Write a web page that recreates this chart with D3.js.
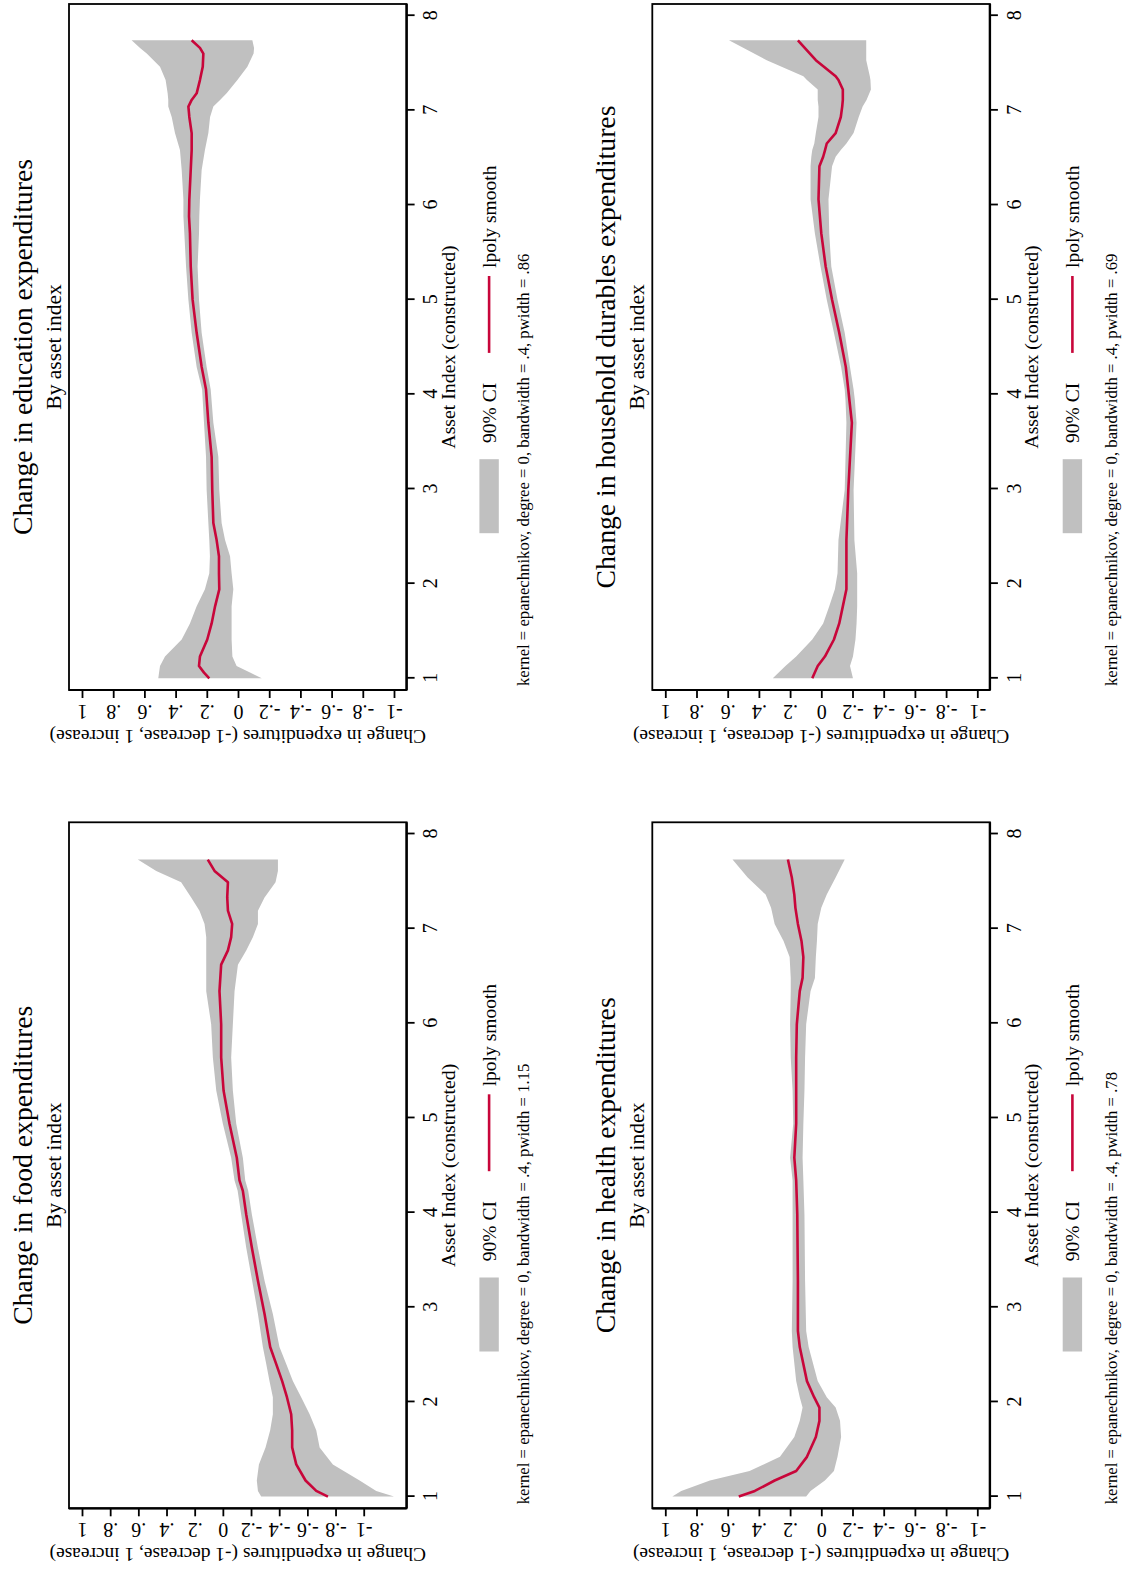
<!DOCTYPE html>
<html><head><meta charset="utf-8">
<script src="https://cdn.jsdelivr.net/npm/d3@7"></script>
<style>
html,body{margin:0;padding:0;background:#fff;}
svg{display:block;}
text{font-family:"Liberation Serif","Times New Roman",serif;fill:#000;}
</style></head><body>
<svg id="chart" width="1123" height="1573"></svg>
<script>
// ---------- tick labels ----------
const assetTicks = [1, 2, 3, 4, 5, 6, 7, 8];
const valueTicks = [-1, -0.8, -0.6, -0.4, -0.2, 0, 0.2, 0.4, 0.6, 0.8, 1];
const valueTickLabels = ["-1", "-.8", "-.6", "-.4", "-.2", "0", ".2", ".4", ".6", ".8", "1"];

// ---------- food ----------
const foodAsset  = [1.00, 1.06, 1.17, 1.34, 1.52, 1.70, 1.87, 2.05, 2.22, 2.40, 2.58, 2.93, 3.28, 3.63, 3.98, 4.23, 4.34, 4.58, 4.94, 5.29, 5.64, 5.99, 6.34, 6.62, 6.77, 6.91, 7.05, 7.19, 7.33, 7.49, 7.61, 7.73];
const foodSmooth = [-0.746, -0.663, -0.587, -0.521, -0.492, -0.492, -0.485, -0.455, -0.421, -0.379, -0.336, -0.296, -0.249, -0.206, -0.166, -0.142, -0.118, -0.099, -0.047, -0.005, 0.012, 0.012, 0.024, 0.012, -0.036, -0.059, -0.066, -0.036, -0.031, -0.036, 0.059, 0.107];
const foodLow    = [-1.215, -1.089, -0.971, -0.781, -0.687, -0.663, -0.616, -0.556, -0.497, -0.450, -0.402, -0.355, -0.296, -0.249, -0.206, -0.180, -0.159, -0.142, -0.095, -0.071, -0.059, -0.071, -0.083, -0.107, -0.166, -0.213, -0.249, -0.249, -0.296, -0.374, -0.391, -0.391];
const foodHigh   = [-0.272, -0.249, -0.241, -0.256, -0.303, -0.336, -0.355, -0.355, -0.331, -0.308, -0.284, -0.249, -0.208, -0.166, -0.130, -0.105, -0.083, -0.059, 0.000, 0.047, 0.071, 0.083, 0.118, 0.118, 0.118, 0.118, 0.130, 0.166, 0.225, 0.296, 0.473, 0.604];

// ---------- education ----------
const eduAsset  = [1.00, 1.06, 1.13, 1.23, 1.41, 1.58, 1.76, 1.94, 2.11, 2.29, 2.46, 2.64, 2.99, 3.34, 3.70, 4.05, 4.29, 4.65, 5.00, 5.35, 5.70, 5.88, 6.06, 6.37, 6.58, 6.76, 6.93, 7.04, 7.11, 7.18, 7.32, 7.46, 7.60, 7.66, 7.74];
const eduSmooth = [0.184, 0.218, 0.250, 0.244, 0.197, 0.169, 0.147, 0.120, 0.122, 0.122, 0.137, 0.158, 0.165, 0.169, 0.190, 0.205, 0.233, 0.265, 0.291, 0.303, 0.308, 0.314, 0.312, 0.303, 0.297, 0.297, 0.312, 0.318, 0.297, 0.265, 0.244, 0.226, 0.222, 0.244, 0.297];
const eduLow    = [-0.152, -0.077, 0.009, 0.036, 0.041, 0.041, 0.041, 0.030, 0.041, 0.051, 0.083, 0.105, 0.120, 0.126, 0.158, 0.175, 0.201, 0.233, 0.250, 0.259, 0.250, 0.248, 0.244, 0.233, 0.212, 0.190, 0.179, 0.158, 0.115, 0.073, 0.004, -0.060, -0.100, -0.103, -0.092];
const eduHigh   = [0.511, 0.506, 0.500, 0.468, 0.361, 0.308, 0.265, 0.212, 0.184, 0.180, 0.184, 0.190, 0.201, 0.205, 0.218, 0.230, 0.265, 0.297, 0.318, 0.333, 0.344, 0.350, 0.350, 0.361, 0.372, 0.404, 0.425, 0.447, 0.447, 0.451, 0.464, 0.500, 0.585, 0.628, 0.682];

// ---------- health ----------
const healthAsset  = [1.00, 1.06, 1.17, 1.27, 1.42, 1.63, 1.80, 1.94, 2.05, 2.22, 2.58, 2.75, 3.28, 3.98, 4.34, 4.58, 4.94, 5.29, 5.64, 5.99, 6.34, 6.48, 6.70, 6.87, 7.05, 7.22, 7.36, 7.54, 7.73];
const healthSmooth = [0.529, 0.426, 0.299, 0.161, 0.092, 0.035, 0.012, 0.012, 0.046, 0.092, 0.138, 0.150, 0.150, 0.154, 0.161, 0.173, 0.161, 0.161, 0.161, 0.157, 0.138, 0.120, 0.115, 0.127, 0.150, 0.166, 0.173, 0.189, 0.214];
const healthLow    = [0.097, 0.069, -0.023, -0.081, -0.104, -0.127, -0.120, -0.092, -0.035, 0.023, 0.081, 0.097, 0.104, 0.108, 0.115, 0.120, 0.115, 0.108, 0.104, 0.097, 0.069, 0.041, 0.035, 0.028, 0.023, 0.000, -0.035, -0.092, -0.150];
const healthHigh   = [0.955, 0.898, 0.714, 0.460, 0.265, 0.173, 0.138, 0.120, 0.138, 0.161, 0.184, 0.189, 0.184, 0.184, 0.184, 0.200, 0.180, 0.184, 0.196, 0.200, 0.196, 0.196, 0.203, 0.242, 0.299, 0.322, 0.357, 0.472, 0.569];

// ---------- household durables ----------
const durAsset  = [1.00, 1.13, 1.23, 1.41, 1.58, 1.76, 1.94, 2.11, 2.46, 2.99, 3.70, 3.94, 4.05, 4.29, 4.65, 5.00, 5.35, 5.70, 6.06, 6.41, 6.51, 6.58, 6.65, 6.76, 6.93, 7.04, 7.11, 7.22, 7.32, 7.36, 7.53, 7.74];
const durSmooth = [0.058, 0.023, -0.023, -0.081, -0.115, -0.138, -0.161, -0.161, -0.161, -0.173, -0.196, -0.180, -0.173, -0.157, -0.115, -0.069, -0.028, 0.000, 0.018, 0.012, -0.012, -0.024, -0.035, -0.092, -0.125, -0.134, -0.138, -0.138, -0.110, -0.092, 0.035, 0.150];
const durLow    = [-0.203, -0.184, -0.203, -0.219, -0.226, -0.230, -0.230, -0.230, -0.212, -0.207, -0.226, -0.215, -0.207, -0.184, -0.150, -0.104, -0.064, -0.051, -0.046, -0.069, -0.092, -0.125, -0.161, -0.207, -0.240, -0.265, -0.290, -0.318, -0.315, -0.311, -0.288, -0.288];
const durHigh   = [0.311, 0.230, 0.161, 0.058, -0.012, -0.051, -0.087, -0.104, -0.110, -0.150, -0.161, -0.155, -0.150, -0.127, -0.081, -0.035, 0.005, 0.041, 0.069, 0.069, 0.064, 0.058, 0.045, 0.035, 0.018, 0.018, 0.023, 0.023, 0.092, 0.115, 0.350, 0.592];

const panelTitles = ["Change in food expenditures", "Change in education expenditures",
                     "Change in health expenditures", "Change in household durables expenditures"];
const panelNotes = [
  "kernel = epanechnikov, degree = 0, bandwidth = .4, pwidth = 1.15",
  "kernel = epanechnikov, degree = 0, bandwidth = .4, pwidth = .86",
  "kernel = epanechnikov, degree = 0, bandwidth = .4, pwidth = .78",
  "kernel = epanechnikov, degree = 0, bandwidth = .4, pwidth = .69"
];
const subtitleText = "By asset index";
const xAxisTitle = "Asset Index (constructed)";
const yAxisTitle = "Change in expenditures (-1 decrease, 1 increase)";
const legendLabels = ["90% CI", "lpoly smooth"];

// ---------- layout ----------
const PAGE_W = 1123, PAGE_H = 1573;
const PW = 686, PH = 337.6;
const LINE_COLOR = "#c8063a", CI_COLOR = "#c0c0c0";

const panels = [
  {title: panelTitles[0], note: panelNotes[0], a: foodAsset, s: foodSmooth, lo: foodLow, hi: foodHigh, x0: 64.7, y0: 69, noteDy: 122},
  {title: panelTitles[1], note: panelNotes[1], a: eduAsset, s: eduSmooth, lo: eduLow, hi: eduHigh, x0: 883, y0: 69, noteDy: 122},
  {title: panelTitles[2], note: panelNotes[2], a: healthAsset, s: healthSmooth, lo: healthLow, hi: healthHigh, x0: 64.7, y0: 652.3, noteDy: 126.7},
  {title: panelTitles[3], note: panelNotes[3], a: durAsset, s: durSmooth, lo: durLow, hi: durHigh, x0: 883, y0: 652.3, noteDy: 126.7}
];

const svg = d3.select("#chart");
svg.append("rect").attr("width", PAGE_W).attr("height", PAGE_H).attr("fill", "#fff");
// landscape drawing, rotated a quarter turn counter-clockwise onto the portrait page
const root = svg.append("g").attr("transform", `translate(0,${PAGE_H}) rotate(-90)`);

panels.forEach(p => {
  const g = root.append("g");
  const x = d3.scaleLinear().domain([1, 8]).range([p.x0 + 11.7, p.x0 + PW - 11.7]);
  const vmin = Math.min(-1, d3.min(p.lo)), vmax = Math.max(1, d3.max(p.hi));
  const y = d3.scaleLinear().domain([vmin, vmax]).range([p.y0 + PH - 12.6, p.y0 + 13]);
  const idx = d3.range(p.a.length);

  g.append("rect").attr("x", p.x0).attr("y", p.y0).attr("width", PW).attr("height", PH)
    .attr("fill", "#fff").attr("stroke", "#000").attr("stroke-width", 1.8);

  g.append("path").datum(idx)
    .attr("d", d3.area().x(i => x(p.a[i])).y0(i => y(p.lo[i])).y1(i => y(p.hi[i])))
    .attr("fill", CI_COLOR);

  g.append("path").datum(idx)
    .attr("d", d3.line().x(i => x(p.a[i])).y(i => y(p.s[i])))
    .attr("fill", "none").attr("stroke", LINE_COLOR).attr("stroke-width", 2.6)
    .attr("stroke-linejoin", "round");

  // asset axis (bottom in landscape)
  const ax = g.append("g").attr("transform", `translate(0,${p.y0 + PH})`)
    .call(d3.axisBottom(x).tickValues(assetTicks).tickFormat(d3.format("d"))
      .tickSize(8).tickSizeOuter(0).tickPadding(8.5));
  ax.attr("font-family", null).attr("font-size", null);
  ax.select(".domain").remove();
  ax.selectAll(".tick line").attr("stroke", "#000").attr("stroke-width", 1.8);
  ax.selectAll(".tick text").style("font-size", "20px");

  // value axis (left in landscape)
  const vy = g.append("g").attr("transform", `translate(${p.x0},0)`)
    .call(d3.axisLeft(y).tickValues(valueTicks).tickFormat((d, i) => valueTickLabels[i])
      .tickSize(8).tickSizeOuter(0));
  vy.attr("font-family", null).attr("font-size", null);
  vy.select(".domain").remove();
  vy.selectAll(".tick line").attr("stroke", "#000").attr("stroke-width", 1.8);
  vy.selectAll(".tick text").attr("x", 0).attr("dy", 0)
    .attr("transform", "translate(-14.5,0) rotate(-90)").attr("text-anchor", "middle")
    .style("font-size", "20px");

  // heavier axis lines on the box edges
  g.append("line").attr("x1", p.x0).attr("x2", p.x0 + PW).attr("y1", p.y0 + PH).attr("y2", p.y0 + PH)
    .attr("stroke", "#000").attr("stroke-width", 2.4);
  g.append("line").attr("x1", p.x0).attr("x2", p.x0).attr("y1", p.y0).attr("y2", p.y0 + PH)
    .attr("stroke", "#000").attr("stroke-width", 2.2);

  const cx = p.x0 + PW / 2;
  g.append("text").attr("x", cx).attr("y", p.y0 - 37.5).attr("text-anchor", "middle")
    .style("font-size", "27.7px").text(p.title);
  g.append("text").attr("x", cx).attr("y", p.y0 - 8).attr("text-anchor", "middle")
    .style("font-size", "21.5px").text(subtitleText);

  g.append("text").attr("x", cx).attr("y", p.y0 + PH + 48.3).attr("text-anchor", "middle")
    .style("font-size", "19.8px").text(xAxisTitle);
  g.append("text").attr("transform", `translate(${p.x0 - 40},${p.y0 + PH / 2}) rotate(-90)`)
    .attr("text-anchor", "middle").style("font-size", "19.4px").text(yAxisTitle);

  // legend
  const ly = p.y0 + PH + 82.5;
  g.append("rect").attr("x", cx - 186.2).attr("y", ly - 9.7).attr("width", 74).attr("height", 19.4)
    .attr("fill", CI_COLOR);
  g.append("text").attr("x", cx - 95.9).attr("y", ly + 6.5).style("font-size", "19.5px").text(legendLabels[0]);
  g.append("line").attr("x1", cx - 5.9).attr("x2", cx + 71).attr("y1", ly).attr("y2", ly)
    .attr("stroke", LINE_COLOR).attr("stroke-width", 2.6);
  g.append("text").attr("x", cx + 79).attr("y", ly + 6.5).style("font-size", "19.5px").text(legendLabels[1]);

  // note
  g.append("text").attr("x", p.x0 + 4).attr("y", p.y0 + PH + p.noteDy)
    .style("font-size", "16.7px").text(p.note);
});
</script>
</body></html>
